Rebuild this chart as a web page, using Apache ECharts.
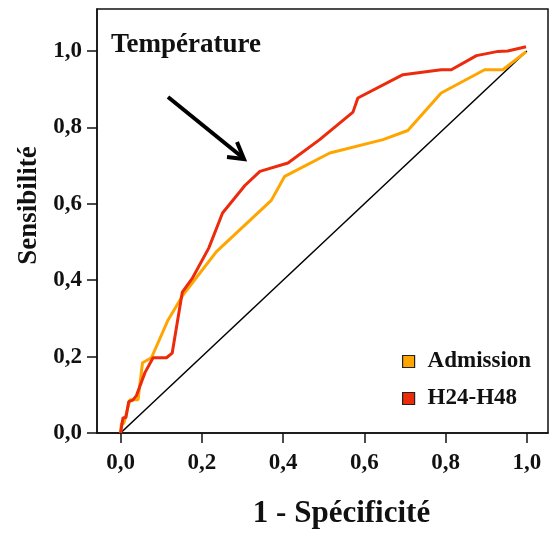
<!DOCTYPE html>
<html lang="fr">

<head>
    <meta charset="UTF-8">
    <title>Courbes ROC - Température</title>
    <style>
        * {
            padding: 0;
            margin: 0;
        }
    </style>
    <script type="text/javascript" src="https://cdn.jsdelivr.net/npm/echarts@6/dist/echarts.min.js"></script>
</head>

<body>
    <div id="main" style="width: 559px;height:533px;"></div>
    <script type="text/javascript">
        // données (1 - spécificité, sensibilité)
        var admissionX = [0, 0.002, 0.008, 0.023, 0.043, 0.054, 0.076, 0.117, 0.154, 0.236, 0.371, 0.404, 0.515, 0.646, 0.707, 0.789, 0.896, 0.941, 0.998];
        var admissionY = [0, 0.025, 0.025, 0.087, 0.087, 0.184, 0.197, 0.296, 0.362, 0.475, 0.609, 0.672, 0.733, 0.768, 0.792, 0.890, 0.951, 0.951, 0.998];

        var h24X = [0, 0.006, 0.013, 0.02, 0.03, 0.039, 0.06, 0.08, 0.113, 0.127, 0.152, 0.176, 0.217, 0.251, 0.306, 0.343, 0.412, 0.49, 0.572, 0.584, 0.695, 0.789, 0.814, 0.876, 0.929, 0.953, 0.998];
        var h24Y = [0, 0.040, 0.040, 0.082, 0.086, 0.098, 0.158, 0.197, 0.197, 0.209, 0.369, 0.404, 0.484, 0.576, 0.648, 0.685, 0.707, 0.768, 0.840, 0.877, 0.938, 0.951, 0.951, 0.988, 0.999, 1.0, 1.011];

        var diagX = [0, 1];
        var diagY = [0, 1];

        var tickValues = [0, 0.2, 0.4, 0.6, 0.8, 1.0];
        var seriesNames = ['Admission', 'H24-H48'];

        var police = '"Liberation Serif", "Times New Roman", serif';

        function paires(xs, ys) {
            return xs.map(function (x, i) { return [x, ys[i]]; });
        }

        function virgule(v) {
            return v.toFixed(1).replace('.', ',');
        }

        var myChart = echarts.init(document.getElementById('main'));

        var option = {
            animation: false,
            backgroundColor: '#fff',
            grid: {
                left: 97,
                right: 11,
                top: 9,
                bottom: 100,
                show: true,
                borderColor: '#111',
                borderWidth: 1.5,
                outerBoundsMode: 'none'
            },
            legend: {
                data: seriesNames,
                orient: 'vertical',
                left: 397,
                top: 345,
                icon: 'rect',
                itemWidth: 12,
                itemHeight: 12,
                itemGap: 14,
                itemStyle: {
                    borderColor: '#222',
                    borderWidth: 1.2
                },
                textStyle: {
                    fontFamily: police,
                    fontWeight: 'bold',
                    fontSize: 23,
                    color: '#111',
                    padding: [0, 0, 0, 8]
                }
            },
            xAxis: {
                type: 'value',
                min: -0.058,
                max: 1.052,
                name: '1 - Spécificité',
                nameLocation: 'middle',
                nameGap: 65,
                nameTextStyle: {
                    fontFamily: police,
                    fontWeight: 'bold',
                    fontSize: 31,
                    color: '#111',
                    padding: [0, 0, 0, 38]
                },
                axisLine: { show: true, onZero: false, lineStyle: { color: '#111', width: 1.5 } },
                axisTick: {
                    show: true,
                    length: 10,
                    customValues: tickValues,
                    lineStyle: { color: '#111', width: 1.5 }
                },
                axisLabel: {
                    customValues: tickValues,
                    margin: 19,
                    fontFamily: police,
                    fontWeight: 'bold',
                    fontSize: 23,
                    color: '#111',
                    formatter: virgule
                },
                splitLine: { show: false }
            },
            yAxis: {
                type: 'value',
                min: 0,
                max: 1.11,
                name: 'Sensibilité',
                nameLocation: 'middle',
                nameRotate: 90,
                nameGap: 49,
                nameTextStyle: {
                    fontFamily: police,
                    fontWeight: 'bold',
                    fontSize: 27,
                    color: '#111',
                    padding: [0, 0, 0, 31]
                },
                axisLine: { show: true, onZero: false, lineStyle: { color: '#111', width: 1.5 } },
                axisTick: {
                    show: true,
                    length: 10,
                    customValues: tickValues,
                    lineStyle: { color: '#111', width: 1.5 }
                },
                axisLabel: {
                    customValues: tickValues,
                    margin: 15,
                    fontFamily: police,
                    fontWeight: 'bold',
                    fontSize: 23,
                    color: '#111',
                    formatter: virgule
                },
                splitLine: { show: false }
            },
            graphic: [
                {
                    type: 'text',
                    left: 111,
                    top: 32,
                    style: {
                        text: 'Température',
                        font: 'bold 27px ' + police,
                        fill: '#111'
                    }
                },
                {
                    type: 'polyline',
                    shape: { points: [[168, 97], [242, 157]] },
                    style: { stroke: '#000', lineWidth: 4, fill: null }
                },
                {
                    type: 'polyline',
                    shape: { points: [[227, 157], [244, 159], [237, 142]] },
                    style: { stroke: '#000', lineWidth: 4, fill: null, lineJoin: 'miter' }
                }
            ],
            series: [
                {
                    name: 'diagonale',
                    type: 'line',
                    data: paires(diagX, diagY),
                    symbol: 'none',
                    silent: true,
                    lineStyle: { color: '#000', width: 1.5 },
                    z: 1
                },
                {
                    name: seriesNames[0],
                    type: 'line',
                    data: paires(admissionX, admissionY),
                    symbol: 'none',
                    color: '#FFA500',
                    lineStyle: { color: '#FFA500', width: 3 },
                    z: 2
                },
                {
                    name: seriesNames[1],
                    type: 'line',
                    data: paires(h24X, h24Y),
                    symbol: 'none',
                    color: '#EC2A0C',
                    lineStyle: { color: '#EC2A0C', width: 3 },
                    z: 3
                }
            ]
        };

        myChart.setOption(option);
    </script>
</body>

</html>
